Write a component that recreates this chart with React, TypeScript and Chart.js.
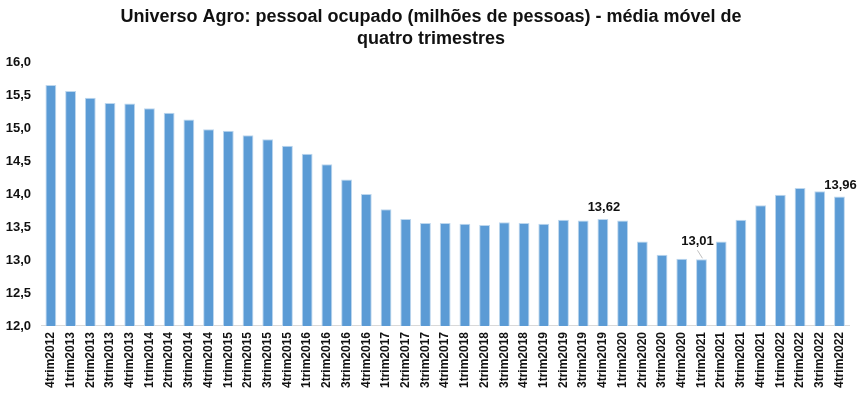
import React, { useEffect, useRef } from "react";
import { Chart, registerables } from "chart.js";

Chart.register(...registerables);

const categories = [
  "4trim2012",
  "1trim2013", "2trim2013", "3trim2013", "4trim2013",
  "1trim2014", "2trim2014", "3trim2014", "4trim2014",
  "1trim2015", "2trim2015", "3trim2015", "4trim2015",
  "1trim2016", "2trim2016", "3trim2016", "4trim2016",
  "1trim2017", "2trim2017", "3trim2017", "4trim2017",
  "1trim2018", "2trim2018", "3trim2018", "4trim2018",
  "1trim2019", "2trim2019", "3trim2019", "4trim2019",
  "1trim2020", "2trim2020", "3trim2020", "4trim2020",
  "1trim2021", "2trim2021", "3trim2021", "4trim2021",
  "1trim2022", "2trim2022", "3trim2022", "4trim2022",
];

const pessoalOcupado = [
  15.65,
  15.56, 15.46, 15.38, 15.37,
  15.30, 15.23, 15.13, 14.98,
  14.96, 14.89, 14.83, 14.73,
  14.61, 14.45, 14.22, 14.00,
  13.77, 13.62, 13.56, 13.56,
  13.55, 13.53, 13.57, 13.56,
  13.55, 13.61, 13.60, 13.62,
  13.60, 13.28, 13.08, 13.02,
  13.01, 13.28, 13.61, 13.83,
  13.99, 14.09, 14.04, 13.96,
];

const labeledIndices = [28, 33, 40];

const titleLines = [
  "Universo Agro: pessoal ocupado (milhões de pessoas) - média móvel de",
  "quatro trimestres",
];

const FONT = "'Liberation Sans', Arial, sans-serif";

const titlePlugin = {
  id: "customTitle",
  afterDraw(chart: any) {
    const ctx = chart.ctx;
    ctx.save();
    ctx.font = `bold 18px ${FONT}`;
    ctx.fillStyle = "#111";
    ctx.textAlign = "center";
    ctx.textBaseline = "middle";
    titleLines.forEach((line, i) => {
      ctx.fillText(line, 431, 17 + i * 22.5);
    });
    ctx.restore();
  },
};

const valueLabelPlugin = {
  id: "valueLabels",
  afterDatasetsDraw(chart: any) {
    const ctx = chart.ctx;
    const meta = chart.getDatasetMeta(0);
    ctx.save();
    ctx.font = `bold 13px ${FONT}`;
    ctx.fillStyle = "#111";
    ctx.textAlign = "center";
    ctx.textBaseline = "bottom";
    labeledIndices.forEach((i) => {
      const el = meta.data[i];
      const v = pessoalOcupado[i];
      const txt = v.toFixed(2).replace(".", ",");
      if (i === 33) {
        ctx.fillText(txt, el.x - 4, el.y - 11);
        ctx.strokeStyle = "#bfbfbf";
        ctx.lineWidth = 1;
        ctx.beginPath();
        ctx.moveTo(el.x - 4, el.y - 9);
        ctx.lineTo(el.x + 1, el.y - 1);
        ctx.stroke();
      } else {
        ctx.fillText(txt, el.x + 1, el.y - 5);
      }
    });
    ctx.restore();
  },
};

export default function App() {
  const ref = useRef<HTMLCanvasElement | null>(null);
  useEffect(() => {
    document.body.style.margin = "0";
    const canvas = ref.current;
    if (!canvas) return;
    const chart = new Chart(canvas, {
      type: "bar",
      data: {
        labels: categories,
        datasets: [
          {
            data: pessoalOcupado,
            backgroundColor: "#5B9BD5",
            borderColor: "#BDD7EE",
            borderWidth: 1,
            categoryPercentage: 1,
            barPercentage: 0.55,
          },
        ],
      },
      options: {
        animation: false,
        responsive: false,
        maintainAspectRatio: false,
        layout: { padding: { left: 0, right: 10, top: 62, bottom: 4 } },
        plugins: {
          legend: { display: false },
          tooltip: { enabled: false },
          title: { display: false },
        },
        scales: {
          x: {
            grid: { display: false, drawTicks: false },
            border: { display: true, color: "#d9d9d9" },
            ticks: {
              color: "#111",
              font: { family: FONT, size: 12, weight: "bold" },
              maxRotation: 90,
              minRotation: 90,
              autoSkip: false,
              padding: 6,
            },
          },
          y: {
            min: 12,
            max: 16,
            grid: { display: false, drawTicks: false },
            border: { display: false },
            afterFit: (scale: any) => {
              scale.width = 41;
            },
            ticks: {
              stepSize: 0.5,
              color: "#111",
              padding: 10,
              font: { family: FONT, size: 13, weight: "bold" },
              callback: (v: any) => Number(v).toFixed(1).replace(".", ","),
            },
          },
        },
      },
      plugins: [valueLabelPlugin, titlePlugin],
    });
    return () => chart.destroy();
  }, []);
  return (
    <div style={{ width: 860, height: 398 }}>
      <canvas ref={ref} width={860} height={398} style={{ display: "block" }} />
    </div>
  );
}
